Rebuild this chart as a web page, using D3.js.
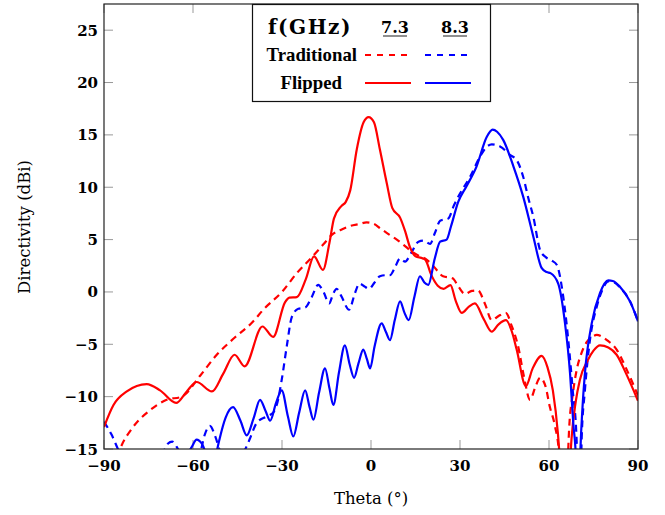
<!DOCTYPE html>
<html><head><meta charset="utf-8">
<script src="https://cdn.jsdelivr.net/npm/d3@7"></script>
<style>body{margin:0;background:#fff}svg{display:block}</style>
</head><body>
<script>
const xTicks = [-90, -60, -30, 0, 30, 60, 90];
const yTicks = [-15, -10, -5, 0, 5, 10, 15, 20, 25];
const freqs = ["7.3", "8.3"];
const rowLabels = ["Traditional", "Flipped"];

const flippedRed = [[-90,-12.9],[-86.8,-10.8],[-82.3,-9.5],[-75.6,-8.8],[-71.1,-9.4],[-65.7,-10.6],[-62.1,-9.5],[-58.8,-8.6],[-53.6,-9.5],[-49.8,-7.8],[-46,-6.0],[-42.6,-7.1],[-36.6,-3.3],[-33,-4.3],[-29,-1.0],[-27.5,-0.55],[-25,-0.5],[-22,1.2],[-19.2,3.4],[-16.2,2.1],[-14,4.7],[-12.5,7.0],[-10,8.2],[-8.5,8.6],[-7,9.7],[-4.8,13.6],[-2.5,16.2],[-0.8,16.7],[1,16.2],[3,13.6],[5.3,10.4],[7.2,8.0],[9.8,7.1],[11.5,5.8],[13.1,4.3],[15,3.4],[17.5,3.2],[18.5,3.0],[20.2,1.7],[22.5,0.6],[24.5,0.3],[26.8,0.65],[28.5,-0.8],[30.6,-2.0],[33,-1.4],[35,-1.1],[38,-2.6],[40.7,-3.8],[43,-3.1],[45.5,-2.7],[47.5,-3.8],[49.1,-5.5],[52.2,-9.0],[54.5,-7.3],[57.5,-6.1],[59.5,-7.2],[61.3,-9.4],[63,-13.5],[64.3,-19],[65.5,-26],[66.6,-19],[67.6,-14],[69,-10.5],[70.4,-8.4],[73.1,-6.5],[75,-5.6],[77.2,-5.1],[80,-5.3],[82.8,-6.0],[86,-7.8],[90,-10.4]];

const tradRed = [[-90,-19],[-87,-17],[-84.6,-15],[-80.2,-12.9],[-74.5,-11.3],[-68.9,-10.3],[-63.8,-10.0],[-57.6,-8.0],[-52,-6.0],[-46.5,-4.5],[-40,-2.9],[-36,-1.6],[-30,0.0],[-25,1.8],[-20,3.3],[-16.2,4.5],[-13,5.5],[-10.4,5.9],[-7,6.3],[-3.7,6.5],[-1.5,6.65],[1,6.5],[3,6.1],[6,5.5],[8.7,5.0],[11,4.5],[13.1,4.0],[16.5,3.4],[18.2,3.2],[20.9,2.5],[24.3,1.5],[27.5,1.3],[29.5,0.5],[31.7,-0.2],[34,0.1],[36,0.15],[38.5,-1.2],[40.7,-2.7],[43,-2.3],[45.4,-2.0],[47.5,-3.3],[49.6,-5.2],[51.5,-8.0],[53.6,-10.3],[55.5,-9.0],[57,-8.2],[58.8,-9.0],[60.3,-11],[62,-12.8],[63.4,-15.5],[64.4,-21],[65.2,-26],[66,-19],[66.8,-13],[68,-9.8],[69.3,-7.5],[71,-5.8],[72.7,-4.8],[74.5,-4.3],[76.1,-4.1],[78,-4.3],[80,-4.7],[82.8,-5.5],[86,-7.3],[90,-9.9]];

const flippedBlue = [[-90,-24],[-80,-20],[-70,-18],[-64,-16.5],[-61.5,-15.3],[-60.4,-14.8],[-58.8,-14.1],[-57,-14.5],[-55.5,-15.8],[-54,-19],[-52.5,-16],[-51,-14],[-49,-12],[-46.5,-11.0],[-44,-12.3],[-41.9,-13.7],[-39.5,-12],[-37.4,-10.3],[-35.5,-11.4],[-34,-12.3],[-32,-10.6],[-30.1,-9.4],[-28,-11.9],[-26.2,-13.8],[-24.2,-11.5],[-22.2,-9.4],[-20.7,-11],[-19.4,-12.2],[-17.5,-9.6],[-15.5,-7.3],[-14,-9.2],[-12.7,-10.8],[-10.8,-7.7],[-8.8,-5.1],[-7.2,-6.9],[-5.7,-8.2],[-4.2,-6.8],[-2.6,-5.5],[-1.4,-6.4],[-0.3,-7.3],[1.2,-5.2],[3.6,-3.0],[5,-3.8],[6.4,-4.6],[8,-2.7],[9.8,-0.9],[11.3,-2.0],[12.7,-2.7],[14.6,-0.5],[16.5,1.5],[18,0.9],[19.3,0.67],[21.5,3.2],[23.3,4.8],[25.5,5.0],[27,6.3],[29.4,8.6],[32.2,10.1],[35.6,12.0],[39,14.8],[41,15.5],[42.5,15.3],[44.6,14.5],[48,12.0],[51.3,9.1],[54.7,5.3],[57.5,2.3],[59.2,1.9],[60.5,1.8],[63.1,0.8],[65.4,-3.0],[67.1,-7.8],[68.2,-12.6],[69.1,-16],[69.8,-26],[70.5,-16],[71.3,-11],[72.1,-7.8],[74.4,-3.0],[77.2,-0.1],[80,1.1],[81.5,1.05],[83.9,0.5],[87.3,-0.9],[90,-2.8]];

const tradBlue = [[-90,-12.4],[-87.5,-13.6],[-85,-15.2],[-80,-18],[-74,-17.5],[-70,-15.3],[-68.5,-14.5],[-67,-14.3],[-65.5,-14.8],[-63.5,-16],[-61,-18],[-58,-16],[-56,-13.6],[-54.3,-12.8],[-52.5,-13.8],[-50.8,-15.3],[-48,-17],[-45,-16.2],[-42,-14.8],[-40.8,-14.0],[-38.5,-12.5],[-35.2,-11.9],[-32.9,-11.5],[-31.5,-10.5],[-30.1,-8.4],[-28.4,-5.2],[-26.7,-2.4],[-24.5,-1.6],[-22.2,-1.5],[-20,-0.5],[-17.8,0.67],[-16,0.0],[-14.1,-1.1],[-12.8,-0.2],[-11.6,0.3],[-10,-0.4],[-7.4,-1.7],[-5.5,-0.2],[-3.9,0.8],[-2.3,0.55],[-0.7,0.3],[1.2,0.9],[3,1.5],[5,1.6],[6.4,1.6],[8,2.3],[9.8,3.2],[11.5,2.9],[13.5,3.7],[16,4.8],[17.8,4.9],[19.9,4.6],[21.5,5.6],[23.3,6.8],[26,7.0],[28,8.3],[30,9.4],[33.4,11.0],[36.7,12.9],[38.8,13.8],[40.7,14.1],[43.5,13.9],[46.8,13.1],[49.1,12.6],[51.3,11.0],[53,9.0],[54.7,7.2],[57,4.0],[59,3.3],[60.9,3.0],[62.6,2.6],[64.8,-0.45],[66.5,-4.6],[68,-9.4],[69.3,-14.1],[70.3,-26],[71,-14.1],[72.1,-9.4],[73.8,-4.6],[76.1,-1.4],[78,0.2],[80,1.0],[82,0.9],[84,0.4],[87.3,-0.9],[90,-2.8]];

const series = [
  {data: tradRed, color: "#ff0000", dash: "7,5"},
  {data: tradBlue, color: "#0000ff", dash: "7,5"},
  {data: flippedRed, color: "#ff0000", dash: null},
  {data: flippedBlue, color: "#0000ff", dash: null}
];

const W = 665, H = 515;
const L = 104, R = 638, T = 4, B = 449;
const svg = d3.select("body").append("svg").attr("width", W).attr("height", H);
const x = d3.scaleLinear().domain([-90, 90]).range([L, R]);
const y = d3.scaleLinear().domain([-15, 27.5]).range([B, T]);

svg.append("defs").append("clipPath").attr("id", "clip")
  .append("rect").attr("x", L).attr("y", T).attr("width", R - L).attr("height", B - T);

// ticks (inward, all four sides)
const tickLen = 9, tickCol = "#999";
const tg = svg.append("g");
xTicks.forEach(t => {
  tg.append("line").attr("x1", x(t)).attr("x2", x(t)).attr("y1", B).attr("y2", B - tickLen).attr("stroke", tickCol);
  tg.append("line").attr("x1", x(t)).attr("x2", x(t)).attr("y1", T).attr("y2", T + tickLen).attr("stroke", tickCol);
});
yTicks.forEach(t => {
  tg.append("line").attr("y1", y(t)).attr("y2", y(t)).attr("x1", L).attr("x2", L + tickLen).attr("stroke", tickCol);
  tg.append("line").attr("y1", y(t)).attr("y2", y(t)).attr("x1", R).attr("x2", R - tickLen).attr("stroke", tickCol);
});

const line = d3.line().x(d => x(d[0])).y(d => y(d[1])).curve(d3.curveMonotoneX);
const lg = svg.append("g").attr("clip-path", "url(#clip)");
series.forEach(s => {
  const p = lg.append("path").attr("d", line(s.data)).attr("fill", "none")
    .attr("stroke", s.color).attr("stroke-width", 2.2).attr("stroke-linejoin", "round");
  if (s.dash) p.attr("stroke-dasharray", s.dash);
});

// frame
svg.append("rect").attr("x", L).attr("y", T).attr("width", R - L).attr("height", B - T)
  .attr("fill", "none").attr("stroke", "#222").attr("stroke-width", 1.2);

const fmt = v => (v < 0 ? "\u2212" + Math.abs(v) : String(v));
const numFont = "'DejaVu Serif', serif";
// x tick labels
svg.append("g").selectAll("text").data(xTicks).join("text")
  .attr("x", d => x(d)).attr("y", 471).attr("text-anchor", "middle")
  .attr("font-family", numFont).attr("font-weight", "bold").attr("font-size", 15)
  .text(fmt);
// y tick labels
svg.append("g").selectAll("text").data(yTicks).join("text")
  .attr("x", 98).attr("y", d => y(d) + 5.5).attr("text-anchor", "end")
  .attr("font-family", numFont).attr("font-weight", "bold").attr("font-size", 15)
  .text(fmt);

// axis titles
svg.append("text").attr("x", 371).attr("y", 504).attr("text-anchor", "middle")
  .attr("font-family", numFont).attr("font-size", 16.5).text("Theta (\u00b0)");
svg.append("text").attr("transform", "translate(30,227) rotate(-90)").attr("text-anchor", "middle")
  .attr("font-family", numFont).attr("font-size", 16.5).text("Directivity (dBi)");

// legend
const leg = svg.append("g");
leg.append("rect").attr("x", 252.5).attr("y", 4.5).attr("width", 238).attr("height", 97)
  .attr("fill", "#fff").attr("stroke", "#111").attr("stroke-width", 1.2);
leg.append("text").attr("x", 268).attr("y", 34).attr("font-family", numFont).attr("font-weight", "bold")
  .attr("font-size", 20).attr("letter-spacing", 1.5).text("f(GHz)");
const colX = [395, 455];
freqs.forEach((f, i) => {
  leg.append("text").attr("x", colX[i]).attr("y", 33).attr("text-anchor", "middle")
    .attr("font-family", numFont).attr("font-weight", "bold").attr("font-size", 16).text(f);
  leg.append("line").attr("x1", colX[i] - 12).attr("x2", colX[i] + 12).attr("y1", 36).attr("y2", 36)
    .attr("stroke", "#444").attr("stroke-width", 1.2);
});
const rowY = [55, 83];
const rowTextX = [357, 342];
rowLabels.forEach((r, j) => {
  leg.append("text").attr("x", rowTextX[j]).attr("y", rowY[j] + 6).attr("text-anchor", "end")
    .attr("font-family", "'Liberation Serif', serif").attr("font-weight", "bold").attr("font-size", 18.8).text(r);
});
const legItems = [
  {col: 0, row: 0, s: series[0]}, {col: 1, row: 0, s: series[1]},
  {col: 0, row: 1, s: series[2]}, {col: 1, row: 1, s: series[3]}
];
legItems.forEach(it => {
  const x0 = it.col === 0 ? 365 : 425;
  const len = it.row === 0 ? 42 : 46;
  const l = leg.append("line").attr("x1", x0).attr("x2", x0 + len)
    .attr("y1", rowY[it.row]).attr("y2", rowY[it.row])
    .attr("stroke", it.s.color).attr("stroke-width", 2.2);
  if (it.s.dash) l.attr("stroke-dasharray", "6,6");
});
</script>
</body></html>
